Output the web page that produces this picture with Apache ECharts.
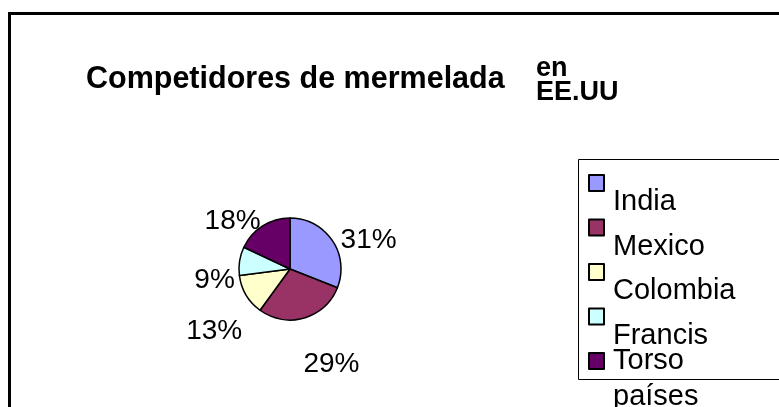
<!DOCTYPE html>
<html>
<head>
<meta charset="utf-8">
<script src="https://cdn.jsdelivr.net/npm/echarts@6/dist/echarts.min.js"></script>
<style>
  html, body { margin: 0; padding: 0; background: #fff; }
  #chartsId { width: 779px; height: 407px; }
</style>
</head>
<body>
<div id="chartsId"></div>
<script>
// values
const countries = ['India', 'Mexico', 'Colombia', 'Francis', 'Torso países'];
const shares = [31, 29, 13, 9, 18];
const sliceColors = ['#9999FF', '#993366', '#FFFFCC', '#CCFFFF', '#660066'];

// small label nudges so the percent texts sit where the original put them
const labelNudge = [[-9, 8], [-10, 32], [14, 29], [15, 22], [11, 8]];

const font = "'Liberation Sans', Arial, sans-serif";

const pieData = countries.map((name, i) => ({
  name: name,
  value: shares[i],
  itemStyle: { color: sliceColors[i] }
}));

// legend: marker on top, name one line lower (last name wraps to two lines,
// first line next to the marker)
const lastName = countries[countries.length - 1];
const legendData = countries.map(name => ({
  name: name,
  textStyle: name === lastName
    ? { lineHeight: 36, padding: [0, 0, 0, 4] }
    : { lineHeight: 38, padding: [16, 0, 16, 4] }
}));

const chart = echarts.init(document.getElementById('chartsId'));

chart.setOption({
  animation: false,
  backgroundColor: '#fff',
  title: [
    {
      text: 'Competidores de mermelada',
      left: 86,
      top: 64,
      padding: 0,
      textStyle: { fontFamily: font, fontSize: 30.5, fontWeight: 'bold', color: '#000' }
    },
    {
      text: 'en\nEE.UU',
      left: 536,
      top: 57,
      padding: 0,
      textStyle: { fontFamily: font, fontSize: 27, fontWeight: 'bold', color: '#000', lineHeight: 24 }
    }
  ],
  legend: {
    orient: 'vertical',
    left: 588,
    top: 129,
    height: 400,
    padding: 0,
    itemGap: -63.5,
    itemWidth: 15,
    itemHeight: 16,
    icon: 'rect',
    itemStyle: { borderColor: '#000', borderWidth: 2 },
    textStyle: { fontFamily: font, fontSize: 29, color: '#000' },
    formatter: name => name === lastName
      ? '\n' + name.replace(' ', '\n')
      : '\n' + name,
    data: legendData
  },
  graphic: [
    {
      type: 'rect',
      shape: { x: 9.5, y: 13.5, width: 900, height: 500 },
      style: { fill: 'none', stroke: '#000', lineWidth: 3 },
      silent: true
    },
    {
      type: 'rect',
      shape: { x: 578.5, y: 159.5, width: 300, height: 220 },
      style: { fill: 'none', stroke: '#000', lineWidth: 1 },
      silent: true
    }
  ],
  series: [
    {
      type: 'pie',
      center: [290, 269],
      radius: 51,
      startAngle: 90,
      clockwise: true,
      avoidLabelOverlap: false,
      itemStyle: { borderColor: '#000', borderWidth: 1.5 },
      label: {
        show: true,
        position: 'outside',
        formatter: '{d}%',
        fontFamily: font,
        fontSize: 28,
        color: '#000'
      },
      labelLine: { show: false, length: 15, length2: 0 },
      labelLayout: params => ({
        dx: labelNudge[params.dataIndex][0],
        dy: labelNudge[params.dataIndex][1]
      }),
      emphasis: { disabled: true },
      data: pieData
    }
  ]
});
</script>
</body>
</html>
